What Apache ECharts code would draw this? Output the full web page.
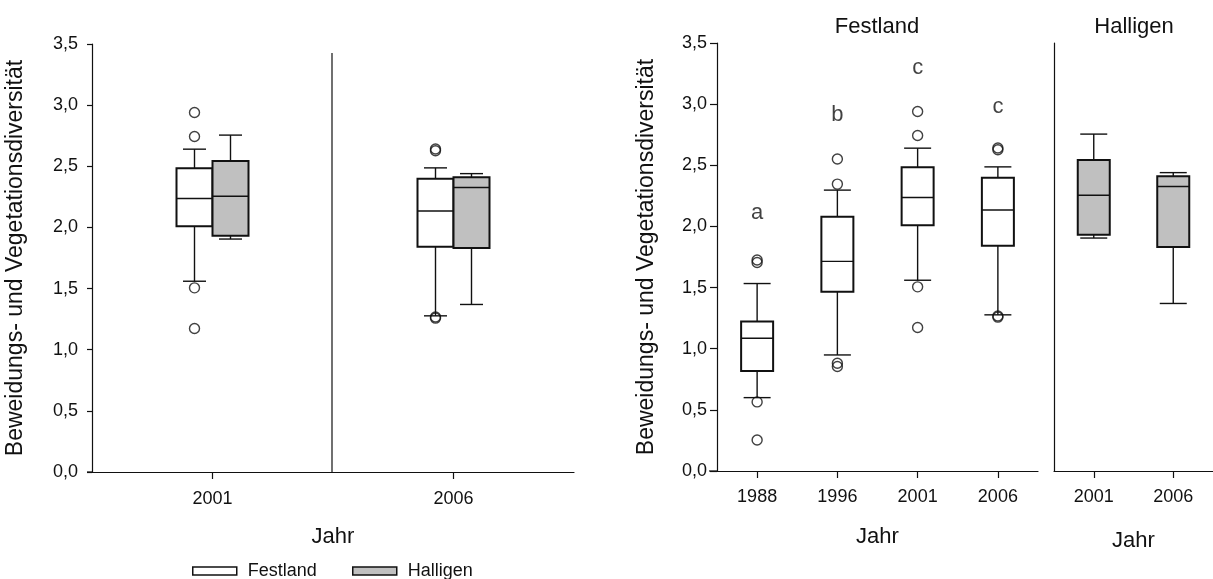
<!DOCTYPE html>
<html>
<head>
<meta charset="utf-8">
<title>Beweidungs- und Vegetationsdiversität</title>
<script src="https://cdn.jsdelivr.net/npm/echarts@6/dist/echarts.min.js"></script>
<style>
    html, body { margin: 0; padding: 0; background: #fff; }
    #main { width: 1213px; height: 579px; }
</style>
</head>
<body>
<div id="main"></div>
<script>
//---data--------------------------------------
var festlandYears = ['1988', '1996', '2001', '2006'];
// [lower whisker, Q1, median, Q3, upper whisker]
var festlandBox = [
    [0.600, 0.818, 1.086, 1.222, 1.533],
    [0.949, 1.466, 1.714, 2.079, 2.297],
    [1.560, 2.010, 2.237, 2.483, 2.640],
    [1.277, 1.843, 2.134, 2.398, 2.487]
];
var festlandOutliers = [
    [1.725, 1.705, 0.565, 0.254],
    [2.551, 2.346, 0.881, 0.854],
    [2.940, 2.744, 1.506, 1.174],
    [2.641, 2.627, 1.268, 1.258]
];
var halligenYears = ['2001', '2006'];
var halligenBox = [
    [1.905, 1.932, 2.255, 2.543, 2.755],
    [1.370, 1.832, 2.326, 2.410, 2.440]
];
var letters = ['a', 'b', 'c', 'c'];
var letterY = [2.11, 2.91, 3.30, 2.98];
var yMin = 0, yMax = 3.5, yStep = 0.5;
var yTitle = 'Beweidungs- und Vegetationsdiversität';
var xTitle = 'Jahr';

//---constants---------------------------------
var FONT = '"Liberation Sans", Arial, sans-serif';
var INK = '#111';
var GREY = '#c0c0c0';

//---helpers-----------------------------------
function boxData(box) {
    return box.map(function (b, i) { return [i].concat(b); });
}

function outlierData(list) {
    var out = [];
    list.forEach(function (vals, i) {
        vals.forEach(function (v) { out.push([i, v]); });
    });
    return out;
}

function boxRenderer(offset, boxW, capW, fill) {
    return function (params, api) {
        var cat = api.value(0);
        var low = api.coord([cat, api.value(1)]);
        var q1 = api.coord([cat, api.value(2)]);
        var med = api.coord([cat, api.value(3)]);
        var q3 = api.coord([cat, api.value(4)]);
        var high = api.coord([cat, api.value(5)]);
        var x = med[0] + offset;
        var thin = { stroke: INK, lineWidth: 1.4 };
        return {
            type: 'group',
            children: [
                { type: 'line', shape: { x1: x, y1: high[1], x2: x, y2: q3[1] }, style: thin },
                { type: 'line', shape: { x1: x, y1: q1[1], x2: x, y2: low[1] }, style: thin },
                { type: 'line', shape: { x1: x - capW / 2, y1: high[1], x2: x + capW / 2, y2: high[1] }, style: thin },
                { type: 'line', shape: { x1: x - capW / 2, y1: low[1], x2: x + capW / 2, y2: low[1] }, style: thin },
                { type: 'rect', shape: { x: x - boxW / 2, y: q3[1], width: boxW, height: q1[1] - q3[1] },
                    style: { fill: fill, stroke: INK, lineWidth: 2 } },
                { type: 'line', shape: { x1: x - boxW / 2, y1: med[1], x2: x + boxW / 2, y2: med[1] }, style: thin }
            ]
        };
    };
}

function yAxisDef(gridIndex, withLabels, tickLen, margin, nameGap) {
    return {
        type: 'value', gridIndex: gridIndex, min: yMin, max: yMax, interval: yStep,
        name: withLabels ? yTitle : '', nameLocation: 'middle', nameGap: nameGap,
        nameTextStyle: { fontFamily: FONT, fontSize: 23, color: INK },
        axisLine: { show: true, lineStyle: { color: INK, width: 1.2 } },
        axisTick: { show: withLabels, length: tickLen, lineStyle: { color: INK, width: 1.2 } },
        axisLabel: {
            show: withLabels, margin: margin, fontFamily: FONT, fontSize: 18, color: INK,
            formatter: function (v) { return v.toFixed(1).replace('.', ','); }
        },
        splitLine: { show: false }
    };
}

function xAxisDef(gridIndex, years, margin, nameGap) {
    return {
        type: 'category', gridIndex: gridIndex, data: years,
        name: xTitle, nameLocation: 'middle', nameGap: nameGap,
        nameTextStyle: { fontFamily: FONT, fontSize: 22, color: INK },
        axisLine: { show: true, lineStyle: { color: INK, width: 1.2 } },
        axisTick: { show: true, alignWithLabel: true, length: 7, lineStyle: { color: INK, width: 1.2 } },
        axisLabel: { margin: margin, fontFamily: FONT, fontSize: 18, color: INK },
        splitLine: { show: false }
    };
}

function outlierSeries(name, axisIndex, data, offset) {
    return {
        name: name, type: 'scatter', xAxisIndex: axisIndex, yAxisIndex: axisIndex,
        data: data, symbol: 'circle', symbolSize: 10, symbolOffset: [offset, 0], z: 1,
        itemStyle: { color: 'rgba(0,0,0,0)', borderColor: INK, borderWidth: 1.4 },
        emphasis: { disabled: true }, silent: true
    };
}

function boxSeries(name, axisIndex, box, offset, boxW, capW, fill) {
    return {
        name: name, type: 'custom', xAxisIndex: axisIndex, yAxisIndex: axisIndex,
        data: boxData(box), encode: { x: 0, y: [1, 2, 3, 4, 5] },
        itemStyle: { color: fill, borderColor: INK, borderWidth: 1.5 },
        renderItem: boxRenderer(offset, boxW, capW, fill), z: 2, silent: true
    };
}

function legendDef(left, name, fill) {
    return {
        left: left, top: 557, icon: 'rect', itemWidth: 44, itemHeight: 8,
        selectedMode: false,
        textStyle: { fontFamily: FONT, fontSize: 18, color: INK, padding: [0, 0, 0, 6] },
        data: [{ name: name, itemStyle: { color: fill, borderColor: INK, borderWidth: 1.5 } }]
    };
}

//---chart-------------------------------------
function init() {
    var chart = echarts.init(document.getElementById('main'), null, { renderer: 'canvas' });

    var leftFest = festlandBox.slice(2);
    var leftFestOut = festlandOutliers.slice(2);

    var option = {
        animation: false,
        backgroundColor: '#fff',
        textStyle: { fontFamily: FONT },
        grid: [
            { left: 92, top: 44, width: 482, height: 428 },
            { left: 717, top: 43, width: 321, height: 428 },
            { left: 1054, top: 43, width: 160, height: 428 }
        ],
        xAxis: [
            xAxisDef(0, halligenYears, 18, 54),
            xAxisDef(1, festlandYears, 17, 55),
            xAxisDef(2, halligenYears, 17, 59)
        ],
        yAxis: [
            yAxisDef(0, true, 5, 14, 65),
            yAxisDef(1, true, 7, 10, 59),
            yAxisDef(2, false, 0, 0, 0)
        ],
        legend: [
            legendDef(187, 'Festland', '#fff'),
            legendDef(347, 'Halligen', GREY)
        ],
        series: [
            boxSeries('Festland', 0, leftFest, -18, 36, 23, '#fff'),
            boxSeries('Halligen', 0, halligenBox, 18, 36, 23, GREY),
            outlierSeries('Festland', 0, outlierData(leftFestOut), -18),
            boxSeries('Festland ', 1, festlandBox, 0, 32, 27, '#fff'),
            outlierSeries('Festland ', 1, outlierData(festlandOutliers), 0),
            boxSeries('Halligen ', 2, halligenBox, 0, 32, 27, GREY),
            {
                name: 'letters', type: 'scatter', xAxisIndex: 1, yAxisIndex: 1,
                data: letterY.map(function (v, i) { return [i, v]; }),
                symbolSize: 1, itemStyle: { color: 'rgba(0,0,0,0)' }, silent: true,
                label: {
                    show: true, position: 'inside', fontFamily: FONT, fontSize: 22, color: INK,
                    formatter: function (p) { return letters[p.dataIndex]; }
                }
            }
        ],
        graphic: [
            // divider between the two years of the left panel
            { type: 'line', shape: { x1: 332, y1: 53, x2: 332, y2: 472 }, style: { stroke: INK, lineWidth: 1.2 } },
            // short overhang of the x axes left of the y axes
            { type: 'line', shape: { x1: 87, y1: 472, x2: 92, y2: 472 }, style: { stroke: INK, lineWidth: 1.2 } },
            { type: 'line', shape: { x1: 709, y1: 471, x2: 717, y2: 471 }, style: { stroke: INK, lineWidth: 1.2 } },
            { type: 'text', x: 877, y: 27, style: { text: 'Festland', font: '22px ' + FONT, fill: INK, textAlign: 'center', textVerticalAlign: 'middle' } },
            { type: 'text', x: 1134, y: 27, style: { text: 'Halligen', font: '22px ' + FONT, fill: INK, textAlign: 'center', textVerticalAlign: 'middle' } }
        ]
    };

    chart.setOption(option);
}

init();
</script>
</body>
</html>
